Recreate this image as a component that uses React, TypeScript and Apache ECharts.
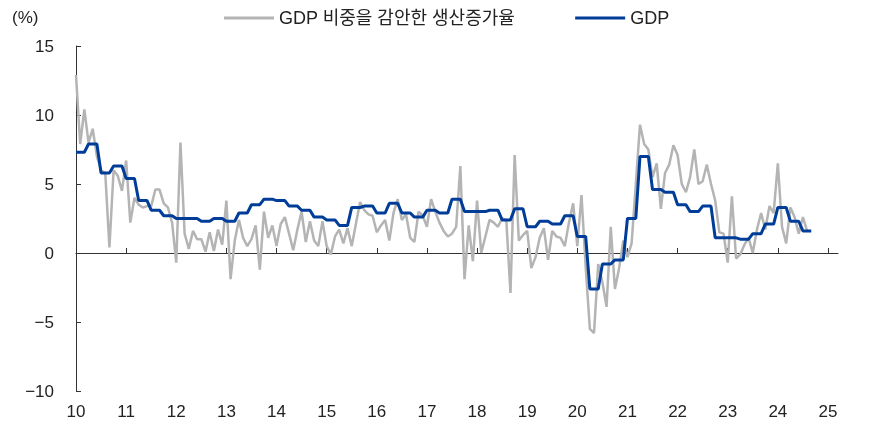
import React, { useEffect, useRef } from "react";
import * as echarts from "echarts";

const startYear = 2010;
const yearTicks = [2010, 2011, 2012, 2013, 2014, 2015, 2016, 2017, 2018, 2019, 2020, 2021, 2022, 2023, 2024, 2025];
const legendNames = ["GDP 비중을 감안한 생산증가율", "GDP"];

// Monthly, from Jan 2010
const productionGrowth = [
  12.9, 7.9, 10.4, 8.0, 9.0, 7.0, 6.0, 5.8, 0.4, 6.0, 5.6, 4.5,
  6.7, 2.2, 4.0, 3.5, 3.3, 3.4, 3.4, 4.6, 4.6, 3.6, 3.3, 2.2,
  -0.7, 8.0, 1.4, 0.3, 1.6, 1.0, 1.0, 0.1, 1.5, 0.15, 1.7, 0.6,
  3.8, -1.9, 0.9, 2.4, 1.1, 0.5, 1.0, 2.0, -1.2, 3.0, 1.1, 2.0,
  0.5, 2.1, 2.6, 1.4, 0.2, 1.7, 3.0, 0.8, 2.3, 0.9, 0.5, 2.3,
  0.5, -0.1, 1.2, 1.7, 0.7, 1.8, 0.5, 2.1, 3.7, 3.1, 2.8, 2.7,
  1.5, 2.0, 2.4, 0.9, 2.9, 3.9, 2.4, 2.8, 1.1, 0.8, 3.0, 2.7,
  1.9, 3.9, 3.0, 2.2, 1.6, 1.2, 1.4, 1.9, 6.3, -1.9, 2.0, -0.6,
  3.8, 0.0, 1.2, 2.4, 2.2, 1.9, 2.5, 2.4, -2.9, 7.1, 0.9, 1.3,
  1.6, -1.1, -0.3, 1.1, 1.8, -0.5, 1.6, 1.2, 1.1, 0.5, 2.2, 3.6,
  0.5, 4.2, -1.0, -5.5, -5.8, -0.8, -2.1, -3.9, 1.9, -2.6, -1.1, 0.9,
  -0.3, 0.7, 5.0, 9.3, 7.9, 7.5, 5.5, 6.5, 3.2, 5.8, 6.4, 7.8,
  7.1, 5.0, 4.4, 5.5, 7.5, 5.0, 5.2, 6.4, 5.0, 3.8, 1.5, 1.4,
  -0.7, 4.1, -0.4, -0.1, 0.6, 1.1, 0.0, 1.7, 2.9, 1.7, 3.4, 2.9,
  6.5, 1.9, 0.7, 3.3, 2.6, 1.4, 2.6, 1.6,
];

// Quarterly, from 2010 Q1
const gdpQuarterly = [
  7.3, 7.9, 5.8, 6.3,
  5.4, 3.8, 3.1, 2.7,
  2.5, 2.5, 2.3, 2.5,
  2.3, 2.9, 3.5, 3.9,
  3.8, 3.4, 3.1, 2.6,
  2.4, 2.0, 3.3, 3.4,
  2.9, 3.6, 2.9, 2.6,
  3.1, 2.9, 3.9, 3.0,
  3.0, 3.1, 2.4, 3.2,
  1.9, 2.3, 2.1, 2.7,
  1.2, -2.6, -0.8, -0.5,
  2.5, 7.0, 4.6, 4.4,
  3.5, 3.0, 3.4, 1.1,
  1.1, 1.0, 1.4, 2.1,
  3.3, 2.3, 1.6,
];

const FONT = "'Liberation Sans', 'Noto Sans CJK KR', sans-serif";
const TEXT = "#222";
const AXIS = "#333";

export default function App() {
  const ref = useRef<HTMLDivElement>(null);
  useEffect(() => {
    const chart = echarts.init(ref.current!, null, { renderer: "svg" });
    const grayData = productionGrowth.map((v, i) => [startYear + i / 12, v]);
    const gdpData: number[][] = [];
    gdpQuarterly.forEach((v, q) => {
      for (let m = 0; m < 3; m++) gdpData.push([startYear + (q * 3 + m) / 12, v]);
    });
    const xMin = 2010;
    const xMax = 2025.2;
    chart.setOption({
      animation: false,
      textStyle: { fontFamily: FONT },
      grid: { left: 76, right: 41, top: 46, bottom: 34 },
      legend: {
        left: 219,
        top: 4,
        icon: "rect",
        itemWidth: 50,
        itemHeight: 3,
        itemGap: 60,
        textStyle: { fontSize: 18, color: TEXT, fontFamily: FONT },
        data: legendNames,
      },
      graphic: [
        { type: "text", left: 12, top: 9, style: { text: "(%)", fontSize: 17, fill: TEXT, fontFamily: FONT } },
      ],
      xAxis: [
        {
          type: "value",
          min: xMin,
          max: xMax,
          interval: 1,
          axisLine: { show: true, onZero: true, lineStyle: { color: AXIS, width: 1 } },
          axisTick: { show: true, inside: true, length: 5, customValues: yearTicks, lineStyle: { color: AXIS } },
          axisLabel: { show: false },
          splitLine: { show: false },
        },
        {
          type: "value",
          position: "bottom",
          min: xMin,
          max: xMax,
          interval: 1,
          axisLine: { show: false, onZero: false },
          axisTick: { show: false },
          axisLabel: {
            customValues: yearTicks,
            formatter: (v: number) => String(Math.round(v) % 100),
            fontSize: 17,
            color: TEXT,
            margin: 12,
            fontFamily: FONT,
          },
          splitLine: { show: false },
        },
      ],
      yAxis: {
        type: "value",
        min: -10,
        max: 15,
        interval: 5,
        axisLine: { show: true, lineStyle: { color: AXIS, width: 1 } },
        axisTick: { show: true, inside: true, length: 5, lineStyle: { color: AXIS } },
        axisLabel: {
          fontSize: 17,
          color: TEXT,
          margin: 22,
          fontFamily: FONT,
          formatter: (v: number) => String(v).replace("-", "\u2212"),
        },
        splitLine: { show: false },
      },
      series: [
        {
          name: legendNames[0],
          type: "line",
          xAxisIndex: 0,
          data: grayData,
          symbol: "none",
          showSymbol: false,
          lineStyle: { color: "#b4b4b4", width: 2.5 },
          itemStyle: { color: "#b4b4b4" },
          z: 2,
        },
        {
          name: legendNames[1],
          type: "line",
          xAxisIndex: 0,
          data: gdpData,
          symbol: "none",
          showSymbol: false,
          lineStyle: { color: "#003d99", width: 3 },
          itemStyle: { color: "#003d99" },
          z: 3,
        },
      ],
    });
    return () => chart.dispose();
  }, []);
  return <div ref={ref} style={{ position: "fixed", left: 0, top: 0, width: 879, height: 425 }} />;
}
